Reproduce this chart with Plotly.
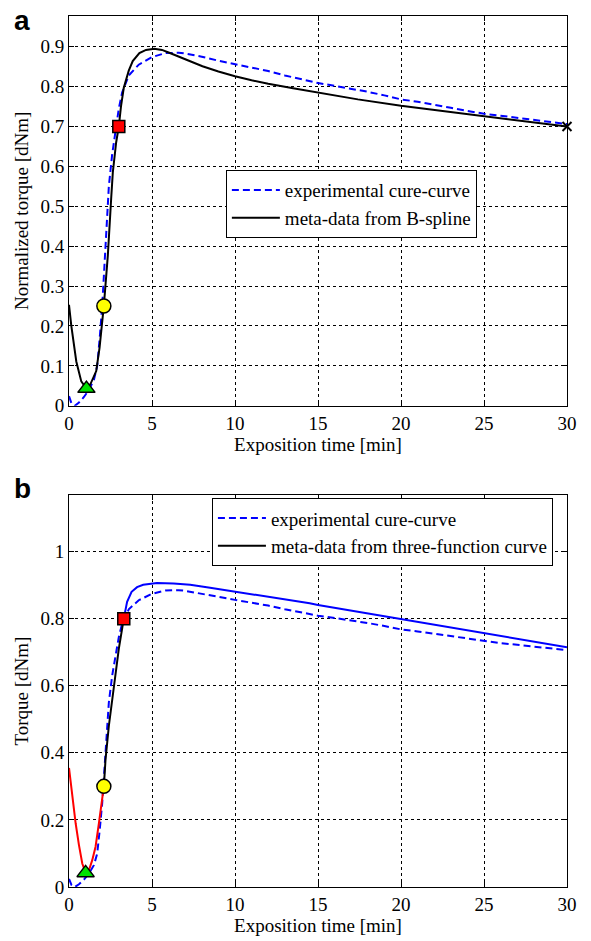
import plotly.graph_objects as go

# ---------------- data ----------------
# experimental cure-curve (same in both panels)
exp_t = [0, 0.15, 0.35, 0.6, 0.9, 1.2, 1.5, 1.7, 1.85, 2.0, 2.2, 2.4, 2.6, 2.8, 3.0, 3.2,
         3.6, 4.2, 5.0, 5.8, 6.6, 7.0, 8.0, 9.0, 10, 11, 12, 13, 14, 15, 16, 17,
         18, 19, 20, 21, 22, 23, 24, 25, 26, 27, 28, 29, 30]
exp_y = [0.024, 0.006, 0.0, 0.008, 0.022, 0.04, 0.065, 0.1, 0.17, 0.25, 0.4, 0.55, 0.63,
         0.69, 0.745, 0.785, 0.828, 0.855, 0.874, 0.884, 0.885, 0.883, 0.875, 0.865,
         0.856, 0.848, 0.839, 0.828, 0.818, 0.809, 0.802, 0.795, 0.787, 0.778, 0.768,
         0.762, 0.755, 0.747, 0.739, 0.732, 0.727, 0.722, 0.716, 0.712, 0.706]

# panel a: meta-data from B-spline
bs_t = [0, 0.14, 0.44, 0.74, 1.05, 1.3, 1.64, 1.84, 2.1, 2.34, 2.54, 2.64, 2.84, 3.0, 3.13,
        3.3, 3.6, 3.84, 4.24, 4.64, 5.14, 5.6, 6.04, 6.5, 7.04, 8.04, 9, 10, 11, 12, 13.5,
        15, 17.4, 20, 22.5, 25, 27.5, 30]
bs_y = [0.253, 0.2, 0.111, 0.061, 0.043, 0.055, 0.087, 0.145, 0.251, 0.377, 0.519, 0.585,
        0.66, 0.70, 0.75, 0.797, 0.84, 0.864, 0.884, 0.892, 0.895, 0.892, 0.885, 0.877,
        0.868, 0.851, 0.838, 0.826, 0.816, 0.807, 0.796, 0.785, 0.768, 0.752, 0.739,
        0.726, 0.713, 0.70]

# panel a: characteristic points
a_min = (1.05, 0.043)
a_mid = (2.1, 0.25)
a_sq = (3.0, 0.70)
a_end = (30, 0.70)

# panel b: three-function curve
red_t = [0, 0.2, 0.4, 0.6, 0.8, 1.0, 1.2, 1.4, 1.6, 1.8, 2.0, 2.1]
red_y = [0.355, 0.27, 0.19, 0.125, 0.07, 0.042, 0.05, 0.08, 0.12, 0.19, 0.26, 0.30]
blk_t = [2.1, 2.2, 2.4, 2.6, 2.8, 3.0, 3.3]
blk_y = [0.30, 0.38, 0.48, 0.56, 0.64, 0.71, 0.80]
blu_t = [3.3, 3.5, 3.77, 4.1, 4.47, 5.3, 6.3, 7.3, 8.5, 10, 12, 14.5, 15, 20, 25, 30]
blu_y = [0.80, 0.85, 0.88, 0.894, 0.901, 0.906, 0.905, 0.901, 0.892, 0.881, 0.866,
         0.846, 0.841, 0.799, 0.759, 0.715]

b_min = (1.0, 0.042)
b_mid = (2.1, 0.30)
b_sq = (3.3, 0.80)

x_ticks = [0, 5, 10, 15, 20, 25, 30]
ya_ticks = [0, 0.1, 0.2, 0.3, 0.4, 0.5, 0.6, 0.7, 0.8, 0.9]
ya_text = ["0", "0.1", "0.2", "0.3", "0.4", "0.5", "0.6", "0.7", "0.8", "0.9"]
yb_ticks = [0, 0.2, 0.4, 0.6, 0.8, 1.0]
yb_text = ["0", "0.2", "0.4", "0.6", "0.8", "1"]

# ---------------- figure ----------------
SERIF = "Liberation Serif"
SANS = "Liberation Sans"
FS = 19
DASH = "7px,4px"
fig = go.Figure()

# panel a
fig.add_trace(go.Scatter(x=exp_t, y=exp_y, mode="lines", name="experimental cure-curve",
                         line=dict(color="#0000ff", width=2, dash=DASH),
                         xaxis="x", yaxis="y", legend="legend"))
fig.add_trace(go.Scatter(x=bs_t, y=bs_y, mode="lines", name="meta-data from B-spline",
                         line=dict(color="black", width=2),
                         xaxis="x", yaxis="y", legend="legend"))


def marker(pt, symbol, color, size, xa, ya, lw=1.5):
    return go.Scatter(x=[pt[0]], y=[pt[1]], mode="markers", showlegend=False,
                      cliponaxis=False, xaxis=xa, yaxis=ya,
                      marker=dict(symbol=symbol, color=color, size=size,
                                  line=dict(color="black", width=lw)))


fig.add_trace(marker(a_min, "triangle-up", "#00e000", 15, "x", "y"))
fig.add_trace(marker(a_mid, "circle", "#ffff00", 14, "x", "y"))
fig.add_trace(marker(a_sq, "square", "#ff0000", 12, "x", "y"))
fig.add_trace(go.Scatter(x=[a_end[0]], y=[a_end[1]], mode="markers", showlegend=False,
                         cliponaxis=False, xaxis="x", yaxis="y",
                         marker=dict(symbol="x-thin", size=9,
                                     line=dict(color="black", width=2))))

# panel b
fig.add_trace(go.Scatter(x=exp_t, y=exp_y, mode="lines", name="experimental cure-curve",
                         line=dict(color="#0000ff", width=2, dash=DASH),
                         xaxis="x2", yaxis="y2", legend="legend2"))
fig.add_trace(go.Scatter(x=blk_t, y=blk_y, mode="lines",
                         name="meta-data from three-function curve",
                         line=dict(color="black", width=2),
                         xaxis="x2", yaxis="y2", legend="legend2"))
fig.add_trace(go.Scatter(x=red_t, y=red_y, mode="lines", showlegend=False,
                         line=dict(color="#ff0000", width=2), xaxis="x2", yaxis="y2"))
fig.add_trace(go.Scatter(x=blu_t, y=blu_y, mode="lines", showlegend=False,
                         line=dict(color="#0000ff", width=2), xaxis="x2", yaxis="y2"))
fig.add_trace(marker(b_min, "triangle-up", "#00e000", 15, "x2", "y2"))
fig.add_trace(marker(b_mid, "circle", "#ffff00", 14, "x2", "y2"))
fig.add_trace(marker(b_sq, "square", "#ff0000", 12, "x2", "y2"))

axis_common = dict(showline=True, linecolor="black", linewidth=1, mirror="ticks",
                   ticks="inside", ticklen=5, tickcolor="black",
                   showgrid=True, gridcolor="black", griddash="dot", gridwidth=1,
                   zeroline=False, tickfont=dict(family=SERIF, size=FS, color="black"))
title_font = dict(family=SERIF, size=FS, color="black")

W, H = 591, 941
ML, MR, MT, MB = 69, 24, 16, 49

fig.update_layout(
    width=W, height=H,
    margin=dict(l=ML, r=MR, t=MT, b=MB),
    paper_bgcolor="white", plot_bgcolor="white",
    font=dict(family=SERIF, color="black"),
    xaxis=dict(axis_common, domain=[0, 1], range=[0, 30], tickvals=x_ticks,
               anchor="y",
               title=dict(text="Exposition time [min]", font=title_font, standoff=1)),
    yaxis=dict(axis_common, domain=[0.5525, 1], range=[0, 0.977], tickvals=ya_ticks,
               ticktext=ya_text, anchor="x",
               title=dict(text="Normalized torque [dNm]", font=title_font, standoff=6)),
    xaxis2=dict(axis_common, domain=[0, 1], range=[0, 30], tickvals=x_ticks,
                anchor="y2",
                title=dict(text="Exposition time [min]", font=title_font, standoff=1)),
    yaxis2=dict(axis_common, domain=[0, 0.4498], range=[0, 1.168], tickvals=yb_ticks,
                ticktext=yb_text, anchor="x2",
                title=dict(text="Torque [dNm]", font=title_font, standoff=6)),
    legend=dict(x=0.315, y=0.823, xanchor="left", yanchor="top",
                bordercolor="black", borderwidth=1, bgcolor="white", itemwidth=48,
                font=dict(family=SERIF, size=FS, color="black"), tracegroupgap=0),
    legend2=dict(x=0.287, y=0.4463, xanchor="left", yanchor="top",
                 bordercolor="black", borderwidth=1, bgcolor="white", itemwidth=48,
                 font=dict(family=SERIF, size=FS, color="black"), tracegroupgap=0),
)

plot_w = W - ML - MR
plot_h = H - MT - MB


def px2paper(px, py):
    # page pixel position -> paper coordinates
    return (px - ML) / plot_w, (H - MB - py) / plot_h


ax, ay = px2paper(22, 20.5)
bx, by = px2paper(22, 491)
fig.add_annotation(text="<b>a</b>", x=ax, y=ay, xref="paper", yref="paper",
                   xanchor="center", yanchor="middle", showarrow=False,
                   font=dict(family=SANS, size=28, color="black"))
fig.add_annotation(text="<b>b</b>", x=bx, y=by, xref="paper", yref="paper",
                   xanchor="center", yanchor="middle", showarrow=False,
                   font=dict(family=SANS, size=28, color="black"))

# remove the browser's default 8px body margin so the figure fills the window
fig.write_html("out.html", config={"displayModeBar": False},
               post_script="document.body.style.margin='0px';")
